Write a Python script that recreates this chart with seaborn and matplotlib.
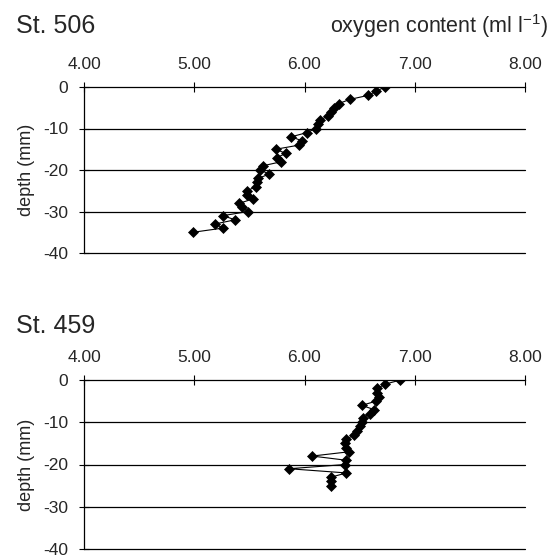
import matplotlib
matplotlib.use("Agg")
import matplotlib.pyplot as plt
import seaborn as sns
import pandas as pd

# ---- data ----
depth_506 = [0, -1, -2, -3, -4, -5, -6, -7, -8, -9, -10, -11, -12, -13, -14, -15, -16, -17,
             -18, -19, -20, -21, -22, -23, -24, -25, -26, -27, -28, -29, -30, -31, -32, -33, -34, -35]
oxy_506 = [6.73, 6.65, 6.58, 6.41, 6.31, 6.27, 6.24, 6.21, 6.14, 6.12, 6.10, 6.02, 5.88, 5.98,
           5.95, 5.74, 5.83, 5.75, 5.79, 5.62, 5.60, 5.68, 5.58, 5.57, 5.56, 5.48, 5.48, 5.53,
           5.41, 5.43, 5.49, 5.26, 5.37, 5.19, 5.26, 4.99]

depth_459 = [0, -1, -2, -3, -4, -5, -6, -7, -8, -9, -10, -11, -12, -13, -14, -15, -16, -17,
             -18, -19, -20, -21, -22, -23, -24, -25]
oxy_459 = [6.87, 6.73, 6.66, 6.66, 6.68, 6.65, 6.52, 6.63, 6.59, 6.53, 6.52, 6.50, 6.48, 6.45,
           6.38, 6.37, 6.38, 6.40, 6.07, 6.38, 6.37, 5.86, 6.38, 6.24, 6.24, 6.24]

x_ticks = [4.0, 5.0, 6.0, 7.0, 8.0]
x_ticklabels = ["4.00", "5.00", "6.00", "7.00", "8.00"]
y_ticks = [0, -10, -20, -30, -40]
y_ticklabels = ["0", "-10", "-20", "-30", "-40"]
titles = ["St. 506", "St. 459"]
x_title = r"oxygen content (ml l$^{\mathregular{-1}}$)"
y_title = "depth (mm)"

sns.set_style("white")
plt.rcParams["font.family"] = ["Liberation Sans", "DejaVu Sans"]
plt.rcParams["mathtext.fontset"] = "custom"
plt.rcParams["mathtext.rm"] = "Liberation Sans"

W, H = 554, 555
fig = plt.figure(figsize=(W / 100, H / 100), dpi=100)

def px_axes(left, top, right, bottom):
    return fig.add_axes([left / W, 1 - bottom / H, (right - left) / W, (bottom - top) / H])

panels = [
    (px_axes(84, 87, 525, 253), depth_506, oxy_506, 33),
    (px_axes(84, 380, 525, 549), depth_459, oxy_459, 333),
]

for i, (ax, d, o, ty) in enumerate(panels):
    df = pd.DataFrame({"oxygen": o, "depth": d})
    sns.lineplot(data=df, x="oxygen", y="depth", sort=False, estimator=None, orient="y",
                 color="black", lw=0.8, marker="D", markersize=4.6,
                 markeredgewidth=0.5, markeredgecolor="black", ax=ax)
    ax.set_xlim(4.0, 8.0)
    ax.set_ylim(-40, 0)
    ax.xaxis.tick_top()
    ax.set_xticks(x_ticks)
    ax.set_xticklabels(x_ticklabels)
    ax.set_yticks(y_ticks)
    ax.set_yticklabels(y_ticklabels)
    ax.tick_params(axis="x", direction="inout", length=7, width=0.8, color="black",
                   labelsize=12.5, pad=7.5, top=True, bottom=False)
    ax.tick_params(axis="y", direction="inout", length=7, width=0.8, color="black",
                   labelsize=12.5, pad=8, left=True)
    for s in ["right", "bottom"]:
        ax.spines[s].set_visible(False)
    for s in ["left", "top"]:
        ax.spines[s].set_color("black")
        ax.spines[s].set_linewidth(0.9)
    for yv in y_ticks[1:]:
        ax.axhline(yv, color="black", lw=0.9, zorder=0, clip_on=False)
    ax.set_xlabel("")
    ax.set_ylabel(y_title, fontsize=13, labelpad=6)
    fig.text(16 / W, 1 - ty / H, titles[i], fontsize=18, ha="left", va="baseline")

fig.text(548 / W, 1 - 33 / H, x_title, fontsize=15.5, ha="right", va="baseline")

fig.savefig("out.png", dpi=100)
